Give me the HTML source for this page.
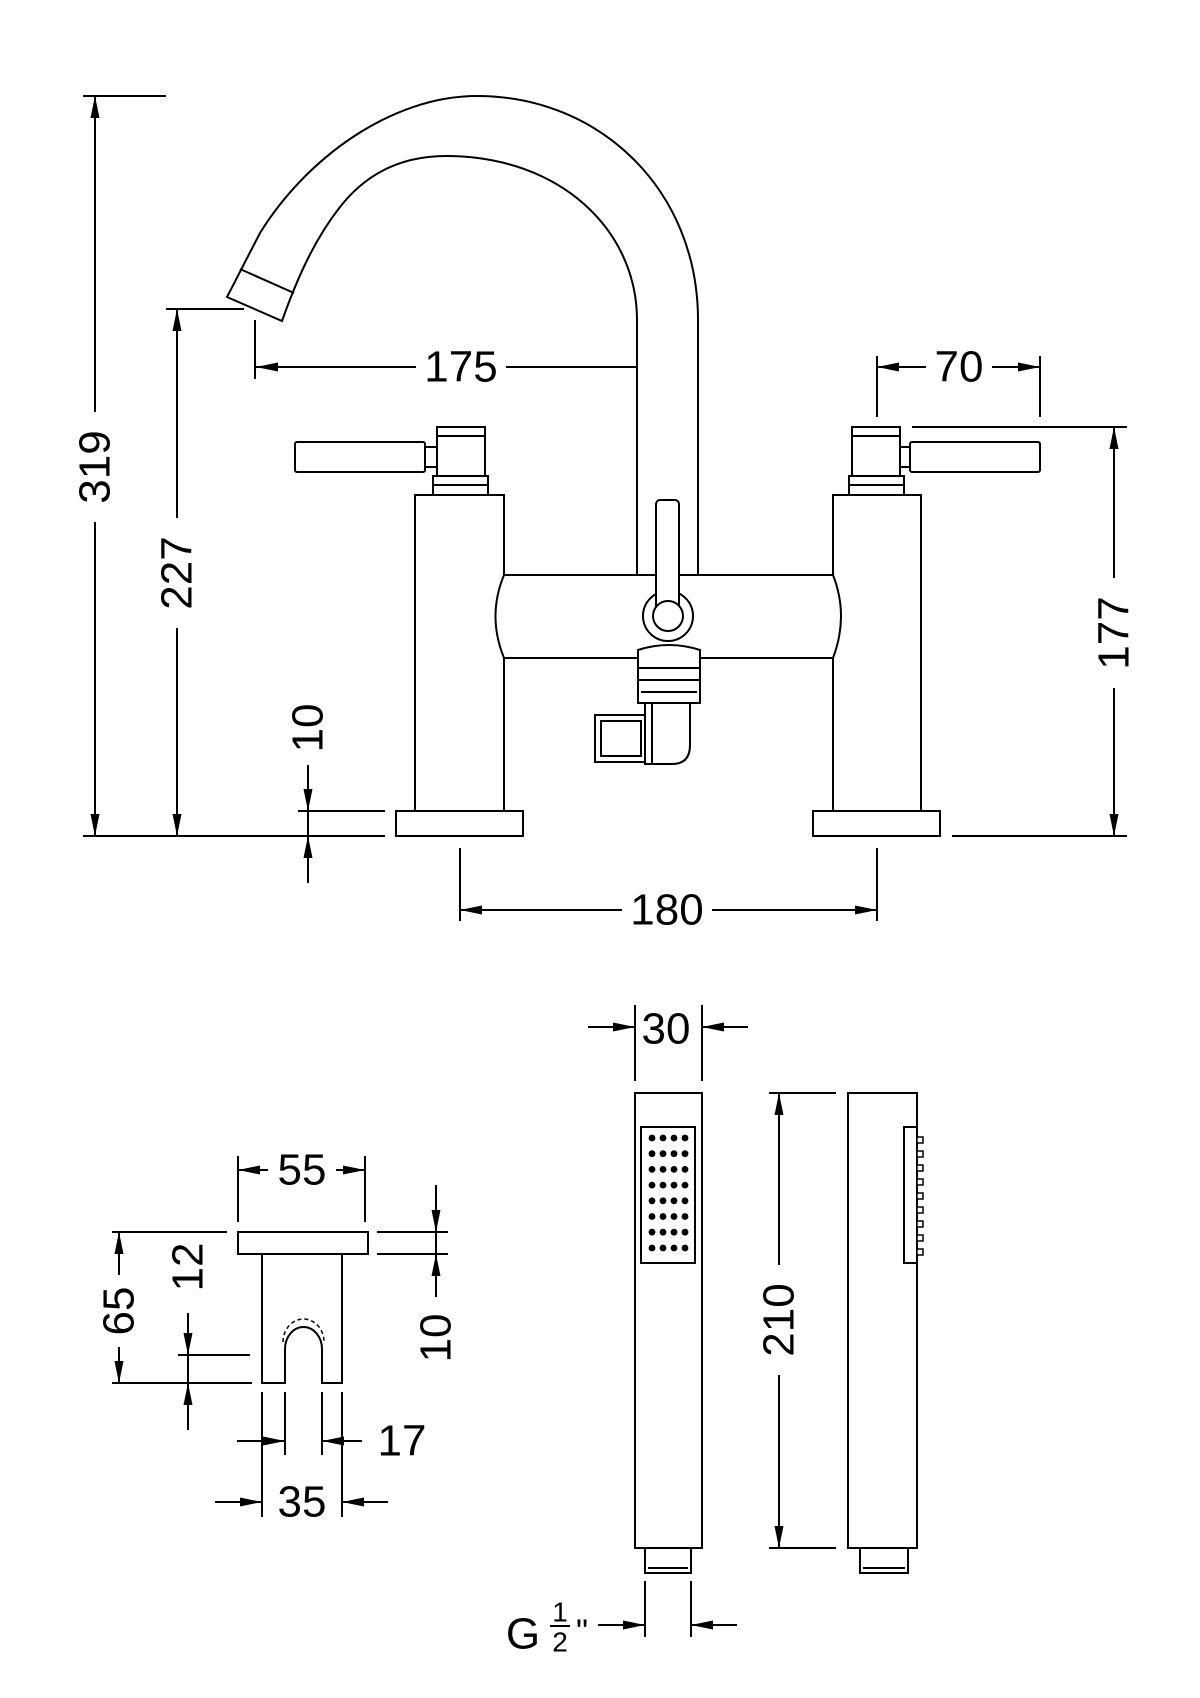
<!DOCTYPE html>
<html><head><meta charset="utf-8"><style>
html,body{margin:0;padding:0;background:#fff}
svg{display:block}
text{font-family:"Liberation Sans",sans-serif;font-size:44px;fill:#000;text-anchor:middle;dominant-baseline:central}
.bg{fill:#fff;stroke:none}
</style></head><body>
<svg width="1200" height="1698" viewBox="0 0 1200 1698" xmlns="http://www.w3.org/2000/svg">
<defs>
<marker id="a" markerUnits="userSpaceOnUse" markerWidth="30" markerHeight="14" refX="0" refY="0" viewBox="-24 -7 26 14" orient="auto-start-reverse">
<path d="M0,0 L-22,-4.5 L-22,4.5 Z" fill="#000"/>
</marker>
</defs>
<g stroke="#000" stroke-width="2" fill="none">
<path d="M83,96H166 M166,309H244 M83,836H385 M952,836H1127 M298,811H385 M912,427H1127 M255,320V379 M668,358V503 M877,356V417 M1040,356V417 M460,848V921 M877,848V921"/>
<line x1="95" y1="96" x2="95" y2="836" marker-start="url(#a)" marker-end="url(#a)"/>
<line x1="177" y1="309" x2="177" y2="836" marker-start="url(#a)" marker-end="url(#a)"/>
<line x1="308" y1="765" x2="308" y2="811" marker-end="url(#a)"/>
<line x1="308" y1="883" x2="308" y2="836" marker-end="url(#a)"/>
<line x1="308" y1="811" x2="308" y2="836"/>
<line x1="256" y1="367" x2="668" y2="367" marker-start="url(#a)" marker-end="url(#a)"/>
<line x1="877" y1="367" x2="1040" y2="367" marker-start="url(#a)" marker-end="url(#a)"/>
<line x1="1114" y1="427" x2="1114" y2="836" marker-start="url(#a)" marker-end="url(#a)"/>
<line x1="460" y1="910" x2="877" y2="910" marker-start="url(#a)" marker-end="url(#a)"/>

<path fill="#fff" d="M698,575 L698,320 C698,190 600,96 477,96 C390,96 305,160 260,233 L227,297 L282,321 C300,270 318,235 340,207 C365,175 400,156 446,156 C560,156 637,230 637,320 L637,575"/>
<path d="M240,269 L294,293"/>
<rect x="396" y="811" width="127" height="25" fill="#fff"/>
<rect x="813" y="811" width="127" height="25" fill="#fff"/>
<rect x="415" y="495" width="89" height="316" fill="#fff"/>
<rect x="833" y="495" width="88" height="316" fill="#fff"/>
<path fill="#fff" d="M504,575 L833,575 Q849,616 833,658 L504,658 Q487,616 504,575 Z"/>
<circle cx="668" cy="616" r="25" fill="#fff"/>
<rect x="656" y="500" width="23" height="110" rx="4" fill="#fff"/>
<circle cx="668" cy="616" r="15" fill="#fff"/>
<path fill="#fff" d="M638,650 Q669,640 700,650 L700,703 L638,703 Z"/>
<path d="M638,668 H700 M638,680 H700 M641,692 H697"/>
<path fill="#fff" d="M645,703 L690,703 L690,745 Q690,764 672,764 L645,764 Z"/>
<path d="M652,703 V764"/>
<rect x="595" y="715" width="50" height="47" fill="#fff"/>
<rect x="601" y="721" width="40" height="35"/>
<rect x="295" y="442" width="130" height="30" rx="2" fill="#fff"/>
<rect x="425" y="447" width="12" height="20" fill="#fff"/>
<rect x="437" y="427" width="48" height="49" fill="#fff"/>
<path d="M437,436 H485"/>
<rect x="433" y="476" width="55" height="19" fill="#fff"/>
<path d="M433,485 H488"/>
<rect x="910" y="442" width="130" height="30" rx="2" fill="#fff"/>
<rect x="900" y="447" width="10" height="20" fill="#fff"/>
<rect x="852" y="427" width="48" height="49" fill="#fff"/>
<path d="M852,436 H900"/>
<rect x="849" y="476" width="55" height="19" fill="#fff"/>
<path d="M849,485 H904"/>

<path d="M238,1156V1222 M365,1156V1222 M112,1232H227 M112,1383H252 M178,1355H250 M377,1232H448 M377,1254H448 M285,1392V1455 M322,1392V1455 M262,1392V1517 M342,1392V1517"/>
<line x1="268" y1="1170" x2="238" y2="1170" marker-end="url(#a)"/>
<line x1="336" y1="1170" x2="365" y2="1170" marker-end="url(#a)"/>
<line x1="119" y1="1232" x2="119" y2="1383" marker-start="url(#a)" marker-end="url(#a)"/>
<line x1="188" y1="1313" x2="188" y2="1355" marker-end="url(#a)"/>
<line x1="188" y1="1430" x2="188" y2="1383" marker-end="url(#a)"/>
<line x1="188" y1="1355" x2="188" y2="1383"/>
<line x1="436" y1="1185" x2="436" y2="1232" marker-end="url(#a)"/>
<line x1="436" y1="1297" x2="436" y2="1254" marker-end="url(#a)"/>
<line x1="436" y1="1232" x2="436" y2="1254"/>
<line x1="237" y1="1441" x2="285" y2="1441" marker-end="url(#a)"/>
<line x1="362" y1="1441" x2="322" y2="1441" marker-end="url(#a)"/>
<line x1="215" y1="1502" x2="262" y2="1502" marker-end="url(#a)"/>
<line x1="388" y1="1502" x2="342" y2="1502" marker-end="url(#a)"/>
<rect x="238" y="1232" width="130" height="22"/>
<path d="M262,1254 L262,1383 L285,1383 L285,1349 A18.5,22 0 0 1 322,1349 L322,1383 L342,1383 L342,1254"/>
<path d="M283,1342 A20.5,23 0 0 1 324,1342" stroke-dasharray="4,3" stroke-width="1.5"/>

<path d="M635,1005V1081 M702,1005V1081 M769,1093H836 M769,1548H836 M645,1581V1637 M691,1581V1637"/>
<line x1="588" y1="1027" x2="635" y2="1027" marker-end="url(#a)"/>
<line x1="748" y1="1027" x2="702" y2="1027" marker-end="url(#a)"/>
<line x1="779" y1="1093" x2="779" y2="1548" marker-start="url(#a)" marker-end="url(#a)"/>
<line x1="598" y1="1625" x2="645" y2="1625" marker-end="url(#a)"/>
<line x1="737" y1="1625" x2="691" y2="1625" marker-end="url(#a)"/>
<rect x="635" y="1093" width="67" height="455"/>
<rect x="641" y="1127" width="54" height="136"/>
<rect x="645" y="1548" width="46" height="25"/>
<path d="M648,1568 H688"/>
<rect x="848" y="1093" width="69" height="455"/>
<rect x="904" y="1127" width="13" height="136"/>
<rect x="860" y="1548" width="48" height="25"/>
<path d="M863,1568 H905"/>
</g>
<g fill="#000">
<g id="dots">
<circle cx="652" cy="1138" r="3.4"/><circle cx="663" cy="1138" r="3.4"/><circle cx="674" cy="1138" r="3.4"/><circle cx="685" cy="1138" r="3.4"/>
</g>
<use href="#dots" y="15.7"/><use href="#dots" y="31.4"/><use href="#dots" y="47.1"/><use href="#dots" y="62.8"/><use href="#dots" y="78.5"/><use href="#dots" y="94.2"/><use href="#dots" y="110"/>
</g>
<g fill="#fff" stroke="#000" stroke-width="1.5">
<rect x="917" y="1137" width="6" height="6"/><rect x="917" y="1151" width="6" height="6"/><rect x="917" y="1165" width="6" height="6"/><rect x="917" y="1179" width="6" height="6"/><rect x="917" y="1193" width="6" height="6"/><rect x="917" y="1207" width="6" height="6"/><rect x="917" y="1221" width="6" height="6"/><rect x="917" y="1235" width="6" height="6"/><rect x="917" y="1249" width="6" height="6"/>
</g>

<rect class="bg" x="416" y="345" width="90" height="44"/>
<rect class="bg" x="926" y="345" width="66" height="44"/>
<rect class="bg" x="622" y="888" width="90" height="44"/>
<rect class="bg" x="73" y="412" width="44" height="110"/>
<rect class="bg" x="155" y="518" width="44" height="110"/>
<rect class="bg" x="286" y="692" width="44" height="72"/>
<rect class="bg" x="1092" y="578" width="44" height="110"/>
<rect class="bg" x="97" y="1275" width="44" height="72"/>
<rect class="bg" x="166" y="1240" width="44" height="63"/>
<rect class="bg" x="414" y="1302" width="44" height="72"/>
<rect class="bg" x="757" y="1265" width="44" height="110"/>
<rect class="bg" x="270" y="1148" width="64" height="44"/>

<text x="461" y="367">175</text>
<text x="959" y="367">70</text>
<text x="667" y="910">180</text>
<text transform="translate(95,467) rotate(-90)">319</text>
<text transform="translate(177,573) rotate(-90)">227</text>
<text transform="translate(308,728) rotate(-90)">10</text>
<text transform="translate(1114,633) rotate(-90)">177</text>
<text x="666" y="1029">30</text>
<text x="302" y="1170">55</text>
<text x="402" y="1441">17</text>
<text x="302" y="1502">35</text>
<text transform="translate(119,1311) rotate(-90)">65</text>
<text transform="translate(188,1267) rotate(-90)">12</text>
<text transform="translate(436,1338) rotate(-90)">10</text>
<text transform="translate(779,1320) rotate(-90)">210</text>
<text x="523" y="1634">G</text>
<text x="560" y="1612" style="font-size:28px">1</text>
<line x1="550" y1="1626" x2="570" y2="1626" stroke="#000" stroke-width="2"/>
<text x="560" y="1642" style="font-size:28px">2</text>
<text x="582" y="1632" style="font-size:34px">"</text>
</svg>
</body></html>
